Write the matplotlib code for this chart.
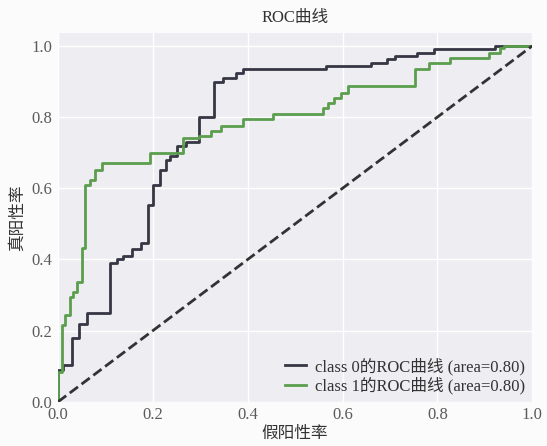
import matplotlib
matplotlib.use("Agg")
import matplotlib.pyplot as plt

# 类别 0 的 ROC 阶梯点（每次在 fpr 处竖直上升到 tpr）
fpr0_steps = [0.0, 0.011, 0.030, 0.044, 0.061, 0.110, 0.125, 0.138, 0.157, 0.174,
              0.189, 0.201, 0.216, 0.227, 0.237, 0.252, 0.269, 0.297, 0.328, 0.347,
              0.375, 0.390, 0.566, 0.661, 0.693, 0.710, 0.756, 0.792, 0.922]
tpr0_steps = [0.090, 0.104, 0.180, 0.220, 0.250, 0.390, 0.400, 0.410, 0.430, 0.445,
              0.552, 0.608, 0.650, 0.680, 0.690, 0.720, 0.730, 0.800, 0.900, 0.910,
              0.925, 0.935, 0.944, 0.952, 0.964, 0.972, 0.980, 0.990, 1.000]

# 类别 1 的 ROC 阶梯点
fpr1_steps = [0.0, 0.008, 0.015, 0.025, 0.032, 0.040, 0.050, 0.057, 0.068, 0.078,
              0.093, 0.195, 0.263, 0.297, 0.322, 0.343, 0.390, 0.453, 0.559, 0.570,
              0.583, 0.597, 0.612, 0.752, 0.782, 0.826, 0.909, 0.932, 0.940]
tpr1_steps = [0.084, 0.216, 0.244, 0.294, 0.308, 0.336, 0.431, 0.608, 0.622, 0.650,
              0.670, 0.700, 0.742, 0.748, 0.762, 0.776, 0.795, 0.810, 0.826, 0.840,
              0.854, 0.868, 0.888, 0.936, 0.952, 0.966, 0.980, 0.994, 1.000]

labels = ["class 0的ROC曲线 (area=0.80)", "class 1的ROC曲线 (area=0.80)"]
colors = ["#363644", "#5a9e4e"]


def staircase(xs, ys):
    # 展开为 ROC 折线的拐点
    fx, fy = [0.0], [0.0]
    for x, y in zip(xs, ys):
        fx += [x, x]
        fy += [fy[-1], y]
    fx.append(1.0)
    fy.append(fy[-1])
    return fx, fy


plt.rcParams['font.family'] = ['Liberation Serif', 'Noto Sans CJK SC']

fig = plt.figure(figsize=(5.47, 4.46), dpi=100, facecolor='#fbfbfb')
ax = fig.add_axes([0.106, 0.099, 0.867, 0.826])
ax.set_facecolor('#eeeef2')
ax.grid(True, color='white', linewidth=1.0)
ax.set_axisbelow(True)
for s in ax.spines.values():
    s.set_visible(False)

for xs, ys, lab, c in [(fpr0_steps, tpr0_steps, labels[0], colors[0]),
                       (fpr1_steps, tpr1_steps, labels[1], colors[1])]:
    fx, fy = staircase(xs, ys)
    ax.plot(fx, fy, color=c, linewidth=2, label=lab)

ax.plot([0, 1], [0, 1], color='#333333', linestyle='--', linewidth=2)

ax.set_xlim(0, 1.0)
ax.set_ylim(0, 1.035)
ax.set_xticks([0.0, 0.2, 0.4, 0.6, 0.8, 1.0])
ax.set_yticks([0.0, 0.2, 0.4, 0.6, 0.8, 1.0])
ax.tick_params(length=0, labelsize=12, labelcolor='#5a5a5a', pad=4)

ax.set_xlabel('假阳性率', fontsize=12, color='#333333', labelpad=2)
ax.set_ylabel('真阳性率', fontsize=12, color='#333333', labelpad=4)
ax.set_title('ROC曲线', fontsize=12, color='#333333', pad=8)

leg = ax.legend(loc='lower right', frameon=False, fontsize=12,
                handlelength=1.3, handletextpad=0.5, labelspacing=0.1,
                borderaxespad=0.05)
for t in leg.get_texts():
    t.set_color('#333333')

fig.savefig('out.png', dpi=100, facecolor=fig.get_facecolor())
